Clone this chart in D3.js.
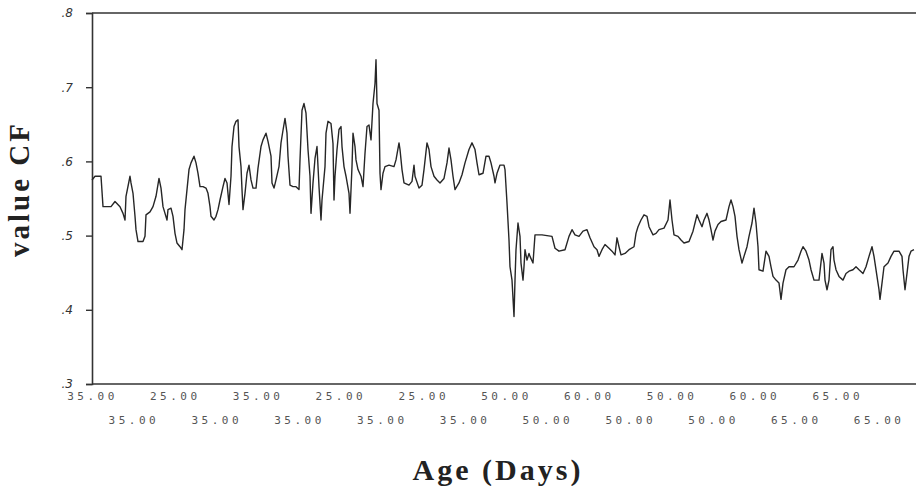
<!DOCTYPE html>
<html>
<head>
<meta charset="utf-8">
<title>value CF by age</title>
<style>
  body { margin: 0; background: #fff; }
  svg { display: block; }
</style>
</head>
<body>
<svg id="chart" width="916" height="486"></svg>
<script src="https://d3js.org/d3.v7.min.js"></script>
<script>
// case number in the sequence
const seqIndex = [
  1, 4, 10, 12, 20, 24, 29, 32, 34, 35, 39, 40, 42, 44, 45, 47, 52, 54, 55, 59,
  62, 65, 68, 70, 72, 74, 76, 77, 80, 82, 84, 86, 89, 91, 93, 94, 96, 98, 100, 103,
  105, 107, 109, 112, 115, 117, 119, 120, 123, 125, 127, 129, 132, 134, 136, 138, 140, 141, 143, 145,
  147, 148, 150, 151, 152, 154, 156, 158, 160, 162, 165, 167, 170, 172, 175, 177, 180, 181, 183, 185,
  188, 190, 192, 194, 196, 197, 199, 202, 205, 208, 209, 211, 213, 215, 217, 219, 220, 222, 224, 226,
  228, 230, 231, 234, 235, 237, 240, 242, 243, 244, 246, 248, 250, 251, 253, 255, 258, 259, 261, 262,
  264, 265, 267, 270, 272, 274, 276, 278, 280, 282, 284, 285, 286, 288, 289, 290, 292, 294, 298, 303,
  305, 308, 309, 311, 313, 318, 321, 323, 324, 328, 331, 333, 336, 338, 340, 343, 346, 349, 353, 356,
  358, 360, 362, 364, 368, 371, 374, 378, 381, 384, 386, 388, 392, 395, 398, 400, 403, 404, 406, 409,
  413, 414, 416, 418, 419, 421, 423, 424, 425, 427, 429, 430, 432, 433, 434, 436, 438, 439, 442, 444,
  451, 461, 464, 468, 474, 478, 481, 484, 488, 492, 496, 499, 503, 506, 508, 511, 514, 518, 521, 524,
  526, 528, 530, 534, 538, 543, 545, 547, 550, 553, 556, 558, 562, 565, 568, 573, 577, 579, 581, 583,
  587, 590, 593, 598, 602, 604, 606, 608, 611, 613, 616, 618, 620, 622, 624, 627, 630, 635, 638, 640,
  642, 644, 646, 648, 651, 653, 656, 658, 661, 663, 665, 667, 668, 672, 675, 678, 680, 682, 685, 688,
  690, 692, 695, 698, 703, 707, 710, 712, 715, 718, 720, 723, 728, 731, 733, 734, 736, 738, 740, 742,
  743, 745, 748, 752, 755, 758, 762, 765, 768, 772, 775, 778, 781, 783, 786, 788, 789, 791, 793, 797,
  800, 803, 808, 811, 812, 814, 816, 818, 820, 823
];

const cfValue = [
  .575, .580, .580, .539, .539, .546, .539, .530, .521, .553, .580, .571, .557, .526, .508, .492, .492, .499, .528, .532,
  .539, .553, .577, .564, .539, .530, .521, .535, .537, .526, .503, .490, .485, .481, .508, .535, .562, .589, .598, .607,
  .598, .584, .566, .566, .564, .557, .539, .526, .521, .526, .535, .548, .566, .577, .571, .542, .580, .620, .647, .654,
  .656, .620, .593, .562, .535, .557, .584, .595, .575, .564, .564, .591, .620, .629, .638, .627, .607, .571, .564, .575,
  .593, .625, .642, .658, .638, .607, .568, .566, .566, .562, .602, .669, .678, .665, .616, .580, .530, .571, .604, .620,
  .566, .521, .548, .593, .638, .654, .651, .624, .548, .580, .616, .643, .647, .620, .593, .580, .557, .530, .593, .638,
  .620, .602, .589, .580, .566, .611, .647, .649, .629, .678, .705, .737, .678, .669, .584, .562, .584, .593, .595, .593,
  .602, .625, .616, .589, .571, .568, .573, .595, .580, .564, .568, .589, .625, .616, .593, .580, .575, .571, .577, .598,
  .618, .602, .580, .562, .571, .582, .598, .616, .625, .616, .598, .582, .584, .607, .607, .598, .580, .571, .584, .595,
  .595, .589, .544, .494, .458, .440, .391, .440, .481, .517, .499, .463, .440, .458, .481, .467, .476, .472, .463, .501,
  .501, .499, .483, .479, .481, .499, .508, .501, .499, .506, .508, .497, .485, .481, .472, .481, .488, .483, .479, .474,
  .497, .485, .474, .476, .481, .485, .503, .512, .521, .528, .526, .512, .501, .503, .508, .510, .521, .548, .521, .501,
  .499, .494, .490, .492, .506, .517, .528, .521, .512, .521, .530, .521, .508, .494, .506, .515, .519, .521, .539, .548,
  .539, .526, .499, .481, .463, .472, .485, .499, .517, .537, .517, .485, .454, .452, .479, .472, .458, .445, .440, .436,
  .414, .436, .454, .458, .458, .467, .479, .485, .479, .467, .454, .440, .440, .476, .463, .440, .427, .440, .481, .485,
  .467, .454, .445, .440, .449, .452, .454, .458, .454, .449, .458, .472, .485, .472, .445, .427, .414, .436, .458, .463,
  .472, .479, .479, .472, .454, .427, .449, .472, .479, .481
];

const caseCount = 824;
const yTicks = [.3, .4, .5, .6, .7, .8];
// case labels, in order along the axis (SPSS staggers them in two rows)
const ageLabels = [
  "35.00", "35.00", "25.00", "35.00", "35.00", "35.00", "25.00", "35.00", "25.00", "35.00",
  "50.00", "50.00", "60.00", "50.00", "50.00", "50.00", "60.00", "65.00", "65.00", "65.00"
];
const labelStep = 41.4;

const data = seqIndex.map((s, i) => ({ seq: s, v: cfValue[i] }));

const svg = d3.select("#chart");
const margin = { top: 13, right: 0, bottom: 102, left: 92 };
const W = 916, H = 486;

const x = d3.scaleLinear()
    .domain([1, caseCount])
    .range([margin.left, W - 1]);

const y = d3.scaleLinear()
    .domain([.3, .8])
    .range([H - margin.bottom, margin.top]);

svg.append("rect").attr("width", W).attr("height", H).attr("fill", "#fff");

// frame lines: top and bottom run the full width
svg.append("line")
    .attr("x1", margin.left).attr("x2", W)
    .attr("y1", y(.8)).attr("y2", y(.8))
    .attr("stroke", "#333").attr("stroke-width", 1.6);

const yAxis = svg.append("g")
    .attr("transform", `translate(${margin.left},0)`)
    .call(d3.axisLeft(y)
        .tickValues(yTicks)
        .tickSize(6)
        .tickFormat(d => d3.format(".1f")(d).replace(/^0/, "")));
yAxis.select(".domain").attr("stroke", "#333").attr("stroke-width", 1.6);
yAxis.selectAll(".tick line").attr("stroke", "#333").attr("stroke-width", 1.4);
yAxis.selectAll(".tick text")
    .attr("x", -19)
    .attr("fill", "#333")
    .style("font-family", "'DejaVu Sans', sans-serif")
    .style("font-style", "italic")
    .style("font-size", "12px");

const labelCases = ageLabels.map((d, i) => 1 + i * labelStep);
const xAxis = svg.append("g")
    .attr("transform", `translate(0,${y(.3)})`)
    .call(d3.axisBottom(x)
        .tickValues(labelCases)
        .tickSize(0)
        .tickFormat((d, i) => ageLabels[i]));
xAxis.select(".domain").remove();
xAxis.append("line")
    .attr("x1", margin.left).attr("x2", W)
    .attr("stroke", "#333").attr("stroke-width", 1.6);
xAxis.selectAll(".tick text")
    .attr("y", (d, i) => i % 2 === 0 ? 8 : 32)
    .attr("fill", "#555")
    .style("font-family", "'DejaVu Sans Mono', monospace")
    .style("font-size", "11px")
    .style("letter-spacing", "3.5px");

// the series
svg.append("path")
    .datum(data)
    .attr("fill", "none")
    .attr("stroke", "#262626")
    .attr("stroke-width", 1.4)
    .attr("stroke-linejoin", "round")
    .attr("d", d3.line().x(d => x(d.seq)).y(d => y(d.v)));

// axis titles
svg.append("text")
    .attr("transform", `translate(29,${189}) rotate(-90)`)
    .attr("text-anchor", "middle")
    .style("font-family", "'Liberation Serif', 'Times New Roman', serif")
    .style("font-weight", "bold")
    .style("font-size", "29px")
    .style("letter-spacing", "3px")
    .attr("fill", "#222")
    .text("value CF");

svg.append("text")
    .attr("x", 498)
    .attr("y", 480)
    .attr("text-anchor", "middle")
    .style("font-family", "'Liberation Serif', 'Times New Roman', serif")
    .style("font-weight", "bold")
    .style("font-size", "30px")
    .style("letter-spacing", "3px")
    .attr("fill", "#222")
    .text("Age (Days)");
</script>
</body>
</html>
